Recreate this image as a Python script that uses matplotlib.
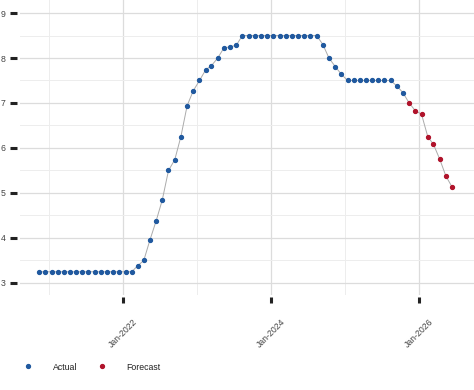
import numpy as np
import pandas as pd
import matplotlib
matplotlib.use("Agg")
import matplotlib.pyplot as plt
import matplotlib.dates as mdates
from matplotlib.ticker import MultipleLocator

plt.rcParams['font.family'] = ['Liberation Sans', 'DejaVu Sans']

# Monthly values, Nov 2020 .. Oct 2025 (actual) and Nov 2025 .. Jun 2026 (forecast)
actual_values = ([3.25] * 16 +
                 [3.38, 3.50, 3.95, 4.38, 4.84, 5.50, 5.74, 6.25, 6.94, 7.27,
                  7.50, 7.74, 7.83, 8.00, 8.22, 8.25, 8.28] +
                 [8.50] * 13 +
                 [8.30, 8.00, 7.81, 7.64] +
                 [7.50] * 8 +
                 [7.38, 7.23])
forecast_values = [7.00, 6.83, 6.75, 6.25, 6.08, 5.75, 5.38, 5.13]

actual_dates = pd.date_range('2020-11-01', periods=len(actual_values), freq='MS') + pd.Timedelta(days=14)
forecast_dates = pd.date_range('2025-11-01', periods=len(forecast_values), freq='MS') + pd.Timedelta(days=14)

all_dates = actual_dates.append(forecast_dates)
all_values = actual_values + forecast_values

blue = '#20599f'
red = '#b0132b'
text_col = '#444444'

fig = plt.figure(figsize=(4.74, 3.90), dpi=100)
ax = fig.add_axes([20 / 474, 1 - 295 / 390, 1 - 20 / 474, 295 / 390])

ax.plot(all_dates, all_values, color='#ababab', linewidth=0.7, zorder=2)
ax.plot(actual_dates, actual_values, linestyle='none', marker='o', markersize=2.8,
        color=blue, zorder=3, label='Actual')
ax.plot(forecast_dates, forecast_values, linestyle='none', marker='o', markersize=2.8,
        color=red, zorder=3, label='Forecast')

ax.set_xlim(pd.Timestamp('2020-08-12'), pd.Timestamp('2026-10-01'))
ax.set_ylim(2.733, 9.289)

ax.xaxis.set_major_locator(mdates.YearLocator(2))
ax.xaxis.set_minor_locator(mdates.YearLocator(1))
ax.xaxis.set_major_formatter(mdates.DateFormatter('%b-%Y'))
ax.yaxis.set_major_locator(MultipleLocator(1))
ax.yaxis.set_minor_locator(MultipleLocator(0.5))

ax.grid(True, which='major', color='#dcdcdc', linewidth=0.9)
ax.grid(True, which='minor', color='#ededed', linewidth=0.7)
ax.set_axisbelow(True)

for s in ax.spines.values():
    s.set_visible(False)
ax.spines['left'].set_position(('outward', 2.2))
ax.spines['bottom'].set_position(('outward', 1.5))

ax.tick_params(axis='y', which='major', length=4.7, width=2.2, color='#222222',
               labelsize=6.3, labelcolor=text_col, pad=3.2)
ax.tick_params(axis='x', which='major', length=4.5, width=2.2, color='#222222',
               labelsize=6.3, labelcolor=text_col, pad=10)
ax.tick_params(which='minor', length=0)
for lab in ax.get_xticklabels():
    lab.set_rotation(45)
    lab.set_ha('center')
    lab.set_va('top')

fig.legend(handles=ax.get_lines()[1:], loc='center left',
           bbox_to_anchor=(24 / 474, 1 - 367 / 390), ncol=2, frameon=False,
           fontsize=6.3, handlelength=1.0, handletextpad=2.3, columnspacing=2.3,
           borderpad=0, borderaxespad=0, labelcolor='#222222')

fig.savefig('out.png', dpi=100)
